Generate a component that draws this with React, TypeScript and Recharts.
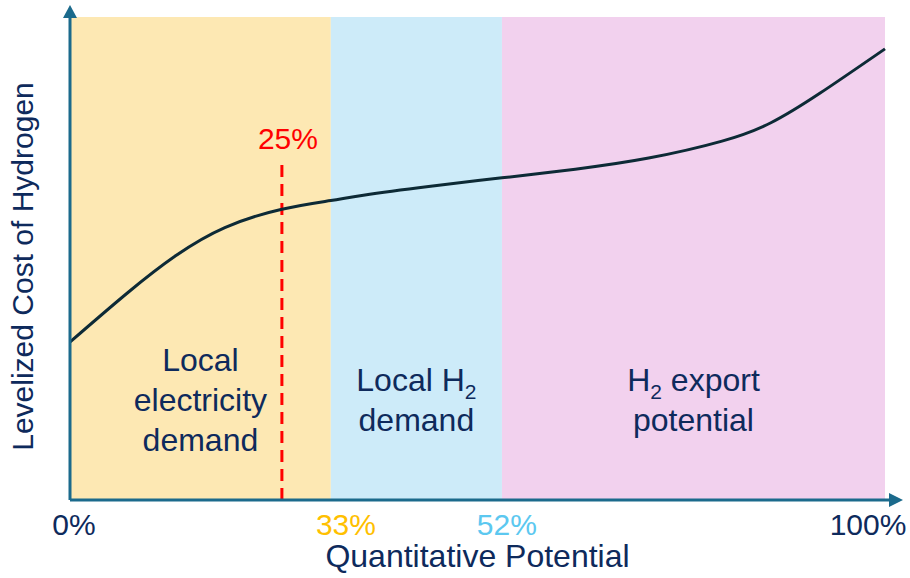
import React from 'react';
import { ComposedChart, Line, XAxis, YAxis, ReferenceArea, ReferenceLine, ReferenceDot } from 'recharts';

// curve: x = share of quantitative potential (%), y = relative LCOH
const potentialPct = [0, 7, 13, 19, 26, 32, 36, 44, 53, 62, 71, 80, 86, 92, 100];
const lcoh = [32.7, 42.8, 50.6, 56.4, 60.2, 62.0, 63.1, 64.9, 66.7, 68.5, 70.8, 74.3, 78.1, 84.2, 93.4];

const zoneStarts = [0, 32, 53];
const zoneEnds = [32, 53, 100];
const zoneFills = ['#FDE8B3', '#CDEBF9', '#F2D1EE'];
const zoneLabels = [
    ['Local', 'electricity', 'demand'],
    ['Local H₂', 'demand'],
    ['H₂ export', 'potential'],
];

const tickValues = [0, 33, 52, 100];
const tickColors = ['#0E2A5C', '#FFC000', '#5CC8F0', '#0E2A5C'];

const marker = { x: 26, top: 70, label: '25%' };

const data = potentialPct.map((x, i) => ({ x, cost: lcoh[i] }));

const FONT = '"Liberation Sans", Arial, sans-serif';
const NAVY = '#0E2A5C';
const AXIS = '#1B6A8C';

// renders a line of text, turning "₂" into a real subscript
function SubText({ text, x, y }: { text: string; x: number; y: number }) {
    const parts = text.split('₂');
    return (
        <text x={x} y={y} textAnchor="middle" fontSize={32} fill={NAVY} fontFamily={FONT}>
            {parts.map((p, i) => (
                <React.Fragment key={i}>
                    <tspan dy={i > 0 ? -8 : 0}>{p}</tspan>
                    {i < parts.length - 1 && (
                        <tspan fontSize={21} dy={8}>2</tspan>
                    )}
                </React.Fragment>
            ))}
        </text>
    );
}

function ZoneLabel({ viewBox, lines }: any) {
    if (!viewBox) return null;
    const cx = viewBox.x + viewBox.width / 2;
    const cy = viewBox.y + viewBox.height * 0.793;
    const lh = 40;
    const first = cy - ((lines.length - 1) * lh) / 2 + 11;
    return (
        <g>
            {lines.map((l: string, i: number) => (
                <SubText key={i} text={l} x={cx} y={first + i * lh} />
            ))}
        </g>
    );
}

function PctTick({ x, y, payload }: any) {
    const idx = tickValues.indexOf(payload.value);
    // the labels sit slightly off their ticks in the original
    const dx = payload.value === 100 ? -17 : payload.value === 0 ? 4 : payload.value === 33 ? 7 : 13;
    return (
        <text x={x + dx} y={y + 35} textAnchor="middle" fontSize={30} fill={tickColors[idx]} fontFamily={FONT}>
            {payload.value}%
        </text>
    );
}

function YTitle({ viewBox }: any) {
    if (!viewBox) return null;
    const cy = viewBox.y + viewBox.height / 2 + 8;
    return (
        <text
            x={33}
            y={cy}
            transform={`rotate(-90, 33, ${cy})`}
            textAnchor="middle"
            fontSize={30}
            fill={NAVY}
            fontFamily={FONT}
        >
            Levelized Cost of Hydrogen
        </text>
    );
}

function MarkerLabel({ viewBox }: any) {
    if (!viewBox) return null;
    return (
        <text x={viewBox.x + 6} y={viewBox.y - 13} textAnchor="middle" fontSize={30} fill="#FF0000" fontFamily={FONT}>
            {marker.label}
        </text>
    );
}

const upArrow = (p: any) => (
    <polygon points={`${p.cx - 7},${p.cy + 1} ${p.cx + 7},${p.cy + 1} ${p.cx},${p.cy - 12}`} fill={AXIS} />
);

const rightArrow = (p: any) => (
    <g>
        <line x1={p.cx} y1={p.cy} x2={p.cx + 6} y2={p.cy} stroke={AXIS} strokeWidth={3} />
        <polygon points={`${p.cx + 4},${p.cy - 7} ${p.cx + 4},${p.cy + 7} ${p.cx + 18},${p.cy}`} fill={AXIS} />
    </g>
);

export default function App() {
    return (
        <div style={{ position: 'absolute', left: 0, top: 0, background: '#fff' }}>
            <ComposedChart width={910} height={578} data={data} margin={{ top: 17, right: 25, bottom: 0, left: 0 }}>
                {zoneStarts.map((s, i) => (
                    <ReferenceArea
                        key={i}
                        x1={s}
                        x2={zoneEnds[i]}
                        y1={0}
                        y2={100}
                        fill={zoneFills[i]}
                        fillOpacity={1}
                        stroke="none"
                        label={<ZoneLabel lines={zoneLabels[i]} />}
                    />
                ))}
                <XAxis
                    dataKey="x"
                    type="number"
                    domain={[0, 100]}
                    ticks={tickValues}
                    tick={<PctTick />}
                    tickLine={false}
                    tickSize={0}
                    tickMargin={0}
                    height={78}
                    axisLine={{ stroke: AXIS, strokeWidth: 3 }}
                    label={{ value: 'Quantitative Potential', position: 'insideBottom', offset: 11, fontSize: 32, fill: NAVY, fontFamily: FONT }}
                />
                <YAxis
                    type="number"
                    domain={[0, 100]}
                    width={70}
                    tick={false}
                    tickLine={false}
                    axisLine={{ stroke: AXIS, strokeWidth: 3 }}
                    label={<YTitle />}
                />
                <ReferenceLine
                    segment={[{ x: marker.x, y: 0 }, { x: marker.x, y: marker.top }]}
                    stroke="#FF0000"
                    strokeWidth={3}
                    strokeDasharray="12 7"
                    label={<MarkerLabel />}
                />
                <Line
                    type="natural"
                    dataKey="cost"
                    stroke="#0D2A36"
                    strokeWidth={3}
                    dot={false}
                    isAnimationActive={false}
                />
                <ReferenceDot x={0} y={100} r={0} shape={upArrow} ifOverflow="visible" />
                <ReferenceDot x={100} y={0} r={0} shape={rightArrow} ifOverflow="visible" />
            </ComposedChart>
        </div>
    );
}
